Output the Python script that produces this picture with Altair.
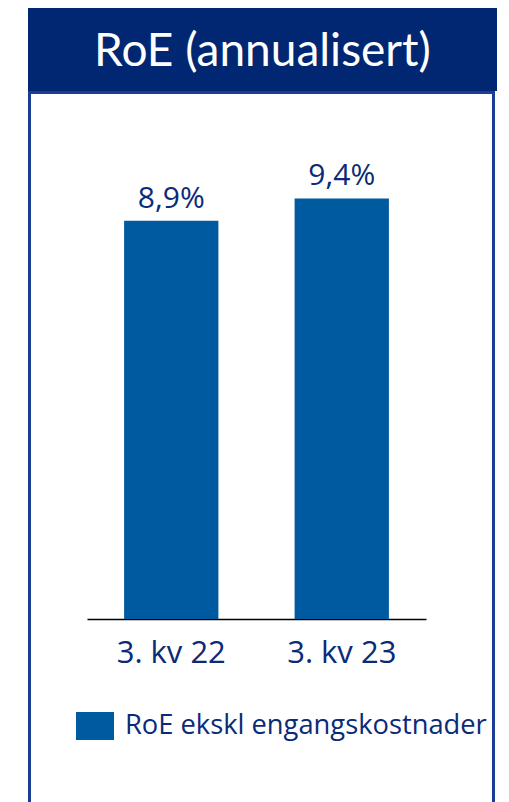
import altair as alt
import pandas as pd

categories = ["3. kv 22", "3. kv 23"]
values = [8.9, 9.4]
value_labels = ["8,9%", "9,4%"]
series_name = "RoE ekskl engangskostnader"
title_text = "RoE (annualisert)"

NAVY = "#012773"
TEXT = "#0B2A78"
BAR = "#005AA0"
BORDER = "#1D3D93"
FONT = "Open Sans"
TITLE_FONT = "Lato"

df = pd.DataFrame({
    "cat": categories,
    "val": values,
    "lab": value_labels,
    "series": [series_name] * len(categories),
})

W, H = 339, 519

xscale = alt.Scale(domain=categories, paddingInner=0.447, paddingOuter=0.2176)
yscale = alt.Scale(domain=[0, 11.6])

base = alt.Chart(df)

bars = base.mark_bar().encode(
    x=alt.X("cat:N", scale=xscale, sort=categories, title=None,
            axis=alt.Axis(labelAngle=0, ticks=False, tickSize=0, domainColor="#000000",
                          domainWidth=1.5, labelFontSize=31, labelColor=TEXT,
                          labelBaseline="alphabetic", labelPadding=43, labelFont=FONT,
                          grid=False)),
    y=alt.Y("val:Q", scale=yscale, axis=None),
    color=alt.Color("series:N", scale=alt.Scale(range=[BAR]),
                    legend=alt.Legend(title=None, orient="none", legendX=-11, legendY=607,
                                      padding=0, symbolType="M-1,-0.737H1V0.737H-1Z",
                                      symbolSize=1444, symbolStrokeWidth=0,
                                      symbolOpacity=1, labelFontSize=27.3, labelColor=TEXT,
                                      labelFont=FONT, labelOffset=11, labelLimit=600)),
)

labels = base.mark_text(baseline="alphabetic", dy=-13, fontSize=30, color=TEXT, font=FONT).encode(
    x=alt.X("cat:N", scale=xscale, sort=categories),
    y=alt.Y("val:Q", scale=yscale),
    text="lab:N",
)

one = alt.Data(values=[{"t": title_text}])

border = alt.Chart(one).mark_rect(filled=False, stroke=BORDER, strokeWidth=3).encode(
    x=alt.value(-57.5), x2=alt.value(406.5), y=alt.value(-7.5), y2=alt.value(800)
)
header = alt.Chart(one).mark_rect(fill=NAVY).encode(
    x=alt.value(-59), x2=alt.value(410), y=alt.value(-92), y2=alt.value(-9)
)
title = alt.Chart(one).mark_text(align="center", baseline="alphabetic", fontSize=46,
                                 color="#FFFFFF", font=TITLE_FONT).encode(
    x=alt.value(175.5), y=alt.value(-34), text="t:N"
)

chart = alt.layer(border, header, title, bars, labels).properties(
    width=W, height=H,
    autosize=alt.AutoSizeParams(type="none"),
    padding={"left": 87, "top": 100, "right": 83, "bottom": 183},
).configure(font=FONT).configure_view(stroke=None, strokeWidth=0)

chart.save("out.html", embed_options={"renderer": "svg", "actions": False})
